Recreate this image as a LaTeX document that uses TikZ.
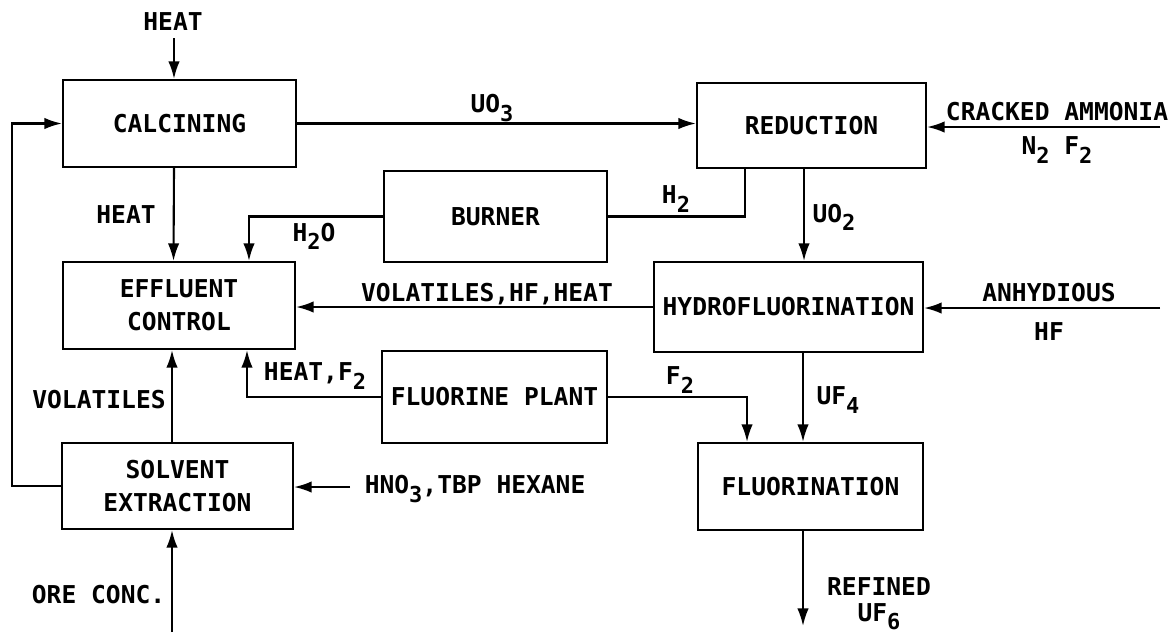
\documentclass[tikz,border=0pt]{standalone}
\usepackage{fontspec}
\setmonofont{DejaVu Sans Mono}
\usepackage{tikz}
\usetikzlibrary{arrows.meta,positioning}
\newcommand{\dn}[1]{\raisebox{-0.6ex}{\fontsize{12.5}{12.5}\selectfont #1}}

\begin{document}
\begin{tikzpicture}[x=0.02cm, y=-0.02cm, >={Latex[length=10pt,width=6.5pt]},
	font=\ttfamily\bfseries\fontsize{14}{19}\selectfont, line width=1.2pt,
	unit/.style={draw, align=center, inner sep=0pt},
	flow/.style={->},
	lbl/.style={inner sep=1pt}]
	\useasboundingbox (0,0) rectangle (1175,637);
	\node[unit, minimum width=4.66cm, minimum height=1.74cm] (calc) at (179.5,123.5) {CALCINING};
	\node[unit, minimum width=4.58cm, minimum height=1.70cm] (red) at (811.5,125.5) {REDUCTION};
	\node[unit, minimum width=4.46cm, minimum height=1.82cm] (burner) at (495.5,216.5) {BURNER};
	\node[unit, minimum width=4.64cm, minimum height=1.74cm] (eff) at (179,305.5) {EFFLUENT\\CONTROL};
	\node[unit, minimum width=5.38cm, minimum height=1.80cm] (hydro) at (788.5,307) {HYDROFLUORINATION};
	\node[unit, minimum width=4.50cm, minimum height=1.84cm] (fplant) at (494.5,397) {FLUORINE PLANT};
	\node[unit, minimum width=4.62cm, minimum height=1.72cm] (solv) at (177.5,486) {SOLVENT\\EXTRACTION};
	\node[unit, minimum width=4.50cm, minimum height=1.74cm] (fluor) at (810.5,486.5) {FLUORINATION};

	\coordinate (heatsrc) at (174,38);
	\coordinate (nh3src) at (1160,127);
	\coordinate (hfsrc) at (1160,308);
	\coordinate (hno3src) at (350,487);
	\coordinate (oresrc) at (172,632);

	\draw[flow] (heatsrc) -- (heatsrc |- calc.north);
	\node[lbl] (heattop) at (173,22) {HEAT};
	\draw[flow] (calc.east) -- (calc.east -| red.west);
	\node[lbl] (uo3) at (492,108) {UO\dn{3}};
	\draw[flow] (nh3src) -- (nh3src -| red.east);
	\node[lbl] (nh3) at (1057,112) {CRACKED AMMONIA};
	\node[lbl] (n2f2) at (1057,150) {N\dn{2} F\dn{2}};
	\draw[flow] ([xshift=-1.1mm]calc.south) -- ([xshift=-1.1mm]eff.north);
	\node[lbl] (heatmid) at (126,215) {HEAT};
	\draw[flow] (burner.west) -| ([xshift=1.4cm]eff.north);
	\node[lbl] (h2o) at (314,236) {H\dn{2}O};
	\draw (burner.east) -| ([xshift=-1.33cm]red.south);
	\node[lbl] (h2) at (676,199) {H\dn{2}};
	\draw[flow] ([xshift=-1.5mm]red.south) -- ([xshift=-1.5mm]red.south |- hydro.north);
	\node[lbl] (uo2) at (834,217) {UO\dn{2}};
	\draw[flow] (hydro.west) -- (hydro.west -| eff.east);
	\node[lbl] (vhf) at (487,294) {VOLATILES,HF,HEAT};
	\draw[flow] (hfsrc) -- (hfsrc -| hydro.east);
	\node[lbl] (anhyd) at (1049,293) {ANHYDIOUS};
	\node[lbl] (hf) at (1049,332) {HF};
	\draw[flow] (fplant.west) -| ([xshift=1.36cm]eff.south);
	\node[lbl] (heatf2) at (315,376) {HEAT,F\dn{2}};
	\draw[flow] (fplant.east) -| ([xshift=-1.27cm]fluor.north);
	\node[lbl] (f2) at (680,380) {F\dn{2}};
	\draw[flow] ([xshift=2.9mm]hydro.south) -- ([xshift=2.9mm]hydro.south |- fluor.north);
	\node[lbl] (uf4) at (838,400) {UF\dn{4}};
	\draw[flow] ([xshift=-1.5mm]fluor.south) -- ++(0,-1.9cm) coordinate (uf6out);
	\node[inner sep=0pt] (refined) at (879,587) {REFINED};
	\node[inner sep=0pt] (uf6) at (879,617) {UF\dn{6}};
	\draw[flow] ([xshift=-1.1mm]solv.north) -- ([xshift=-1.1mm]solv.north |- eff.south);
	\node[lbl] (vol) at (99,400) {VOLATILES};
	\draw[flow] (solv.west) -- ++(-0.98cm,0) |- (calc.west);
	\draw[flow] (hno3src) -- (hno3src -| solv.east);
	\node[lbl, anchor=west] (hno3) at (362,489) {HNO\dn{3},TBP HEXANE};
	\draw[flow] (oresrc) -- (oresrc |- solv.south);
	\node[lbl, anchor=east] (ore) at (168,595) {ORE CONC.};
\end{tikzpicture}
\end{document}
